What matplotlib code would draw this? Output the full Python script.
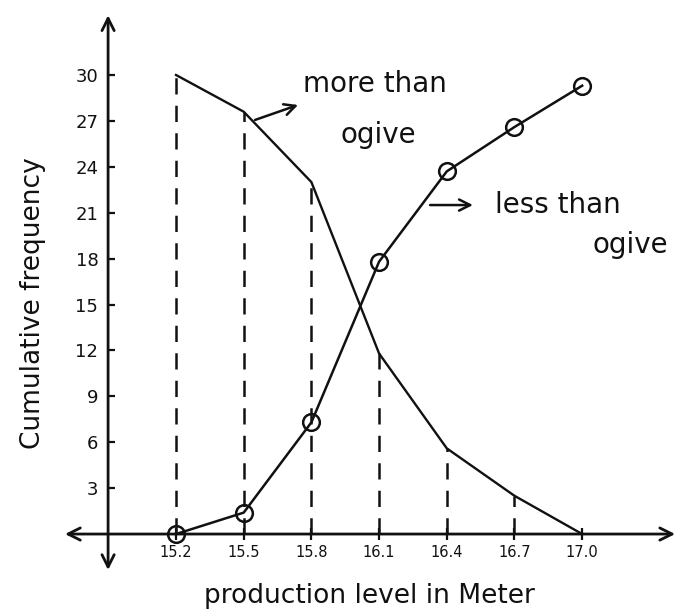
import matplotlib
matplotlib.use("Agg")
import matplotlib.pyplot as plt

# Class boundaries (production level in metres)
boundaries = [15.2, 15.5, 15.8, 16.1, 16.4, 16.7, 17.0]
x_tick_labels = ["15.2", "15.5", "15.8", "16.1", "16.4", "16.7", "17.0"]

# Cumulative frequencies
more_than = [30, 27.6, 23.0, 11.8, 5.6, 2.5, 0]
less_than = [0, 1.4, 7.3, 17.8, 23.7, 26.6, 29.3]

y_ticks = [3, 6, 9, 12, 15, 18, 21, 24, 27, 30]

plt.rcParams["font.family"] = ["DejaVu Sans"]

fig = plt.figure(figsize=(6.81, 6.13), dpi=100)
ax = fig.add_axes([0, 0, 1, 1])
ax.set_xlim(14.420, 17.438)
ax.set_ylim(-5.16, 34.90)

ink = "#111111"
y_axis_x = 14.899

# Axes drawn through the crossing point, with arrowheads at both ends
for side in ("top", "right", "left", "bottom"):
    ax.spines[side].set_visible(False)
ax.spines["left"].set_position(("data", y_axis_x))
ax.spines["bottom"].set_position(("data", 0))

arrow_kw = dict(arrowstyle="<->", lw=2.0, color=ink, mutation_scale=22,
                shrinkA=0, shrinkB=0)
ax.annotate("", xy=(y_axis_x, 33.9), xytext=(y_axis_x, -2.35), arrowprops=arrow_kw)
ax.annotate("", xy=(17.412, 0), xytext=(14.708, 0), arrowprops=arrow_kw)

# Ticks
ax.set_yticks(y_ticks)
ax.set_yticklabels([str(v) for v in y_ticks])
ax.set_xticks(boundaries)
ax.set_xticklabels(x_tick_labels)
ax.tick_params(axis="y", direction="in", length=5, width=1.6, colors=ink,
               labelsize=13, pad=7)
ax.tick_params(axis="x", direction="inout", length=8, width=1.6, colors=ink,
               labelsize=10.5, pad=4)

# Axis titles
ax.set_xlabel("production level in Meter", fontsize=19, color=ink)
ax.set_ylabel("Cumulative frequency", fontsize=19, color=ink)
ax.xaxis.label.set_verticalalignment("center")
ax.yaxis.label.set_verticalalignment("center")
ax.xaxis.set_label_coords(0.543, 0.028)
ax.yaxis.set_label_coords(0.048, 0.506)

# Dashed drop lines from the more-than ogive to the x-axis
for x, y in zip(boundaries[:-1], more_than[:-1]):
    ax.plot([x, x], [0, y], color=ink, lw=1.8, ls=(0, (6.5, 4.5)))

# More-than ogive
ax.plot(boundaries, more_than, color=ink, lw=1.7)

# Less-than ogive with open circle markers
ax.plot(boundaries, less_than, color=ink, lw=1.8, marker="o", markersize=12,
        markerfacecolor="none", markeredgewidth=1.8, markeredgecolor=ink)

# Curve labels with pointer arrows
pointer = dict(arrowstyle="->", lw=1.8, color=ink, mutation_scale=20,
               shrinkA=0, shrinkB=0)
ax.annotate("", xy=(15.741, 28.04), xytext=(15.550, 27.06), arrowprops=pointer)
ax.text(15.763, 29.41, "more than", fontsize=20, color=ink, ha="left", va="center")
ax.text(15.927, 26.1, "ogive", fontsize=20, color=ink, ha="left", va="center")

ax.annotate("", xy=(16.516, 21.5), xytext=(16.326, 21.5), arrowprops=pointer)
ax.text(16.614, 21.5, "less than", fontsize=20, color=ink, ha="left", va="center")
ax.text(17.044, 18.9, "ogive", fontsize=20, color=ink, ha="left", va="center")

fig.savefig("out.png", dpi=100, facecolor="white")
